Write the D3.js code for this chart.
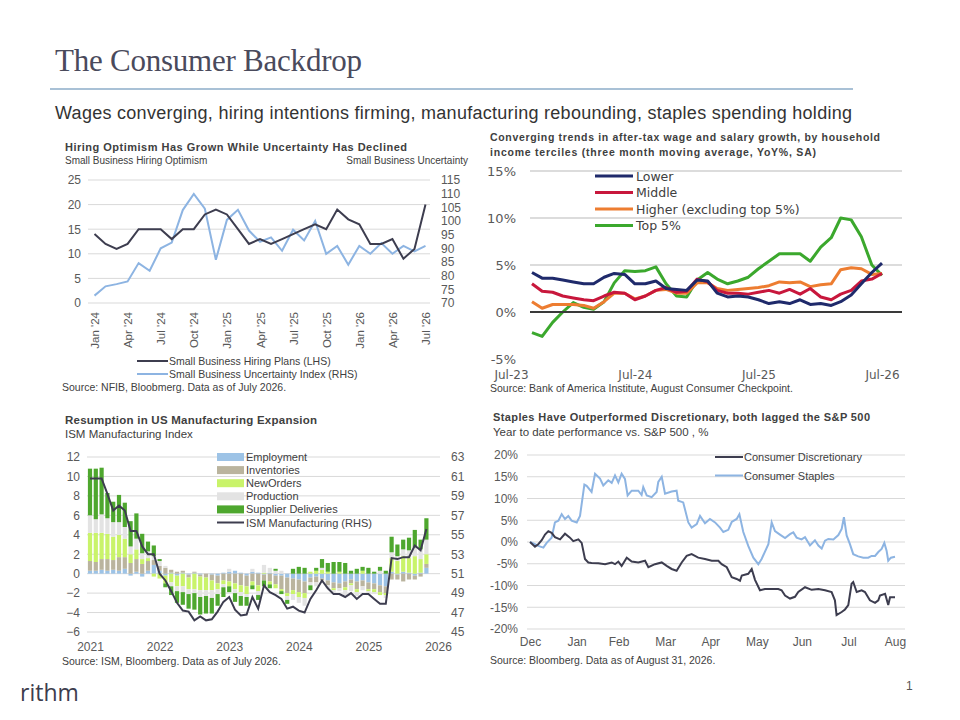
<!DOCTYPE html>
<html><head><meta charset="utf-8">
<script src="https://cdn.jsdelivr.net/npm/d3@7"></script>
<style>
body{margin:0;background:#fff}
svg{display:block}
</style></head><body>
<svg id="c" width="960" height="720"></svg>
<script>
// ================= DATA =================
// Panel 1: NFIB hiring plans vs uncertainty (monthly, Jan '24 .. Jul '26)
const hiringTickLabels = ["Jan '24","Apr '24","Jul '24","Oct '24","Jan '25","Apr '25","Jul '25","Oct '25","Jan '26","Apr '26","Jul '26"];
const hiringPlans = [14,12,11,12,15,15,15,13,15,15,18,19,18,15,12,13,12,13,14,15,16,15,19,17,16,12,12,13,9,11,20];
const uncertaintyIndex = [72.7,76.1,76.9,77.9,84.6,81.8,90.0,92.1,104.0,109.9,104.5,85.8,100.4,104.1,96.5,92.4,94.0,89.1,96.8,92.9,100.0,88.0,90.9,84.0,90.9,88.0,91.9,88.0,90.9,88.9,90.9];
const hiringLeftTicks = [0,5,10,15,20,25];
const hiringRightTicks = [70,75,80,85,90,95,100,105,110,115];

// Panel 2: after-tax wage growth by income tercile (monthly, Sep-23 .. Jul-26)
const wageFirstMonth = new Date(2023, 8, 1);
const wageTickDates = [new Date(2023,6,1), new Date(2024,6,1), new Date(2025,6,1), new Date(2026,6,1)];
const wageTicks = [-5,0,5,10,15];
const wageLower  = [4.2,3.6,3.6,3.4,3.2,3.0,3.0,3.7,4.1,4.0,3.0,3.0,3.3,2.5,2.4,2.3,3.4,3.3,2.0,1.6,1.7,1.6,1.3,0.9,1.1,0.9,1.3,0.8,0.9,0.7,1.1,1.8,3.0,4.2,5.2];
const wageMiddle = [3.0,2.2,2.1,1.7,1.5,1.3,1.2,1.7,2.1,2.0,1.3,1.7,2.3,2.6,2.1,2.2,3.5,3.2,2.3,2.0,2.0,1.9,2.1,2.3,2.0,2.4,1.9,2.5,1.6,1.3,1.9,2.3,3.3,3.5,4.1];
const wageHigher = [1.1,0.4,0.8,0.8,0.8,0.7,0.4,1.1,2.0,2.0,1.4,1.7,2.3,2.4,2.0,2.0,3.1,3.1,2.5,2.3,2.4,2.5,2.6,2.8,3.2,3.1,3.2,2.7,2.9,3.0,4.5,4.7,4.6,4.0,4.1];
const wageTop5   = [-2.2,-2.6,-1.1,0.0,1.0,0.5,0.3,1.1,3.1,4.4,4.3,4.4,4.8,3.0,1.7,1.6,3.4,4.2,3.5,3.0,3.3,3.7,4.6,5.4,6.2,6.2,6.2,5.4,6.9,7.9,10.0,9.8,8.0,5.0,3.9];
const wageSeriesNames = ["Lower","Middle","Higher (excluding top 5%)","Top 5%"];

// Panel 3: ISM manufacturing contributions (monthly from Jan 2021)
const ismYearLabels = ["2021","2022","2023","2024","2025","2026"];
const ismLeftTicks = [-6,-4,-2,0,2,4,6,8,10,12];
const ismRightTicks = [45,47,49,51,53,55,57,59,61,63];
const ismEmployment = [0.3,0.3,0.4,0.3,0.4,0.3,0.5,-0.2,0.2,-0.3,0.3,0.9, 0.3,-0.2,0.1,-0.2,0.1,-0.1,0.1,-0.1,0.0,-0.1,-0.2,0.1, 0.2,0.3,0.1,-0.2,0.2,0.1,-0.1,0.1,-0.2,-0.2,-0.4,-0.5, -0.6,-0.8,-0.4,-0.3,-0.5,-0.7,-0.9,-1.0,-0.8,-0.6,-0.8,-0.7, -0.9,-1.0,-1.2,-1.3,0.2,-0.1,0.2,0.1,-0.2,0.1,0.6];
const ismInventories = [1.0,0.9,1.1,1.2,1.0,1.4,1.2,1.1,1.3,1.0,1.0,0.5, 0.5,0.6,0.3,0.2,0.2,-0.3,0.1,-0.2,-0.4,-0.6,-0.8,-0.7, -0.8,-1.0,-1.2,-1.1,-0.8,-1.2,-0.6,-0.8,-0.9,-1.4,-1.6,-1.2, -1.3,-1.2,-0.5,-0.6,-0.2,-0.5,-0.6,-0.5,-0.6,-0.4,-0.8,-0.6, -0.7,-0.6,-0.7,-0.7,-0.6,-0.5,-0.8,-0.6,-0.4,-0.3,0.4];
const ismNewOrders = [2.9,3.0,2.7,2.6,2.4,2.3,1.9,0.9,1.0,0.5,0.3,-0.3, -0.5,-0.8,-0.9,-1.1,-1.3,-1.2,-1.6,-1.4,-1.3,-1.0,-0.6,-0.4, -0.5,-0.6,-0.7,-0.8,-0.4,-0.6,0.1,-0.3,-0.4,-0.2,-0.3,-0.4, -0.5,-0.5,0.2,0.3,0.4,0.2,-0.2,0.2,-0.3,-0.2,-0.3,0.3, -0.2,-0.3,-0.3,-0.2,1.4,1.3,1.6,1.5,1.8,1.4,1.0];
const ismProduction = [1.8,1.4,1.9,1.6,1.5,1.3,1.2,0.8,1.1,0.6,0.7,0.4, 0.5,0.2,-0.4,-0.5,-0.6,-0.5,-0.4,-0.7,-0.6,-0.8,-0.5,-0.3, 0.3,-0.4,-0.4,-0.3,0.3,-0.4,0.8,0.5,0.3,0.3,-0.4,-0.6, -0.6,-0.8,-0.3,-0.4,0.2,-0.3,-0.4,-0.3,-0.5,-0.6,-0.4,-0.4, -0.3,-0.2,0.3,-0.3,0.6,0.5,0.7,0.8,0.9,1.0,1.5];
const ismSupplier = [4.8,5.2,4.8,2.6,2.1,2.8,2.5,2.6,2.6,2.0,1.0,1.1, 0.2,-0.4,-0.9,-1.2,-1.3,-1.5,-1.7,-1.8,-1.8,-1.6,-1.2,-1.0, -0.6,-0.9,-1.0,-0.9,-0.4,-0.5,-0.6,-0.4,0.2,-0.3,-0.4,0.5, 0.7,0.6,-0.5,0.3,0.9,0.9,1.2,1.0,1.1,0.3,0.5,0.4, 0.6,0.2,0.4,0.3,1.6,1.2,1.0,1.3,1.8,1.0,2.2];
const ismIndex = [60.8,60.8,60.8,59.2,57.5,58.0,57.5,55.4,55.4,53.8,53.0,53.0,51.0,50.3,49.2,48.0,47.2,47.1,46.2,46.6,46.2,46.3,47.1,48.1,48.6,47.3,46.7,46.8,48.6,47.4,49.8,49.1,48.8,48.4,47.4,47.6,47.2,47.0,48.4,49.3,50.3,49.5,48.9,48.9,48.6,49.0,48.4,48.9,48.9,48.4,47.9,47.9,52.6,52.5,52.7,52.7,53.9,53.4,55.6];
const ismKeys = ["Employment","Inventories","NewOrders","Production","Supplier Deliveries"];

// Panel 4: YTD performance vs S&P 500 ([days since Dec 31, %])
const perfMonthLabels = ["Dec","Jan","Feb","Mar","Apr","May","Jun","Jul","Aug"];
const perfMonthEndDays = [0,31,59,90,120,151,181,212,243];
const perfTicks = [-20,-15,-10,-5,0,5,10,15,20];
const discretionary = [[0,0],[3.3,-1.1],[5.5,-0.5],[7.8,0.4],[10,1.7],[12.2,2.5],[14.4,2.1],[16.6,1.1],[20,0.6],[23.3,1.9],[26.6,1.0],[28.8,0.2],[32.2,0.6],[34.4,-0.2],[36.6,-3.9],[38.8,-4.7],[41,-4.8],[45.5,-4.9],[50,-5.1],[54.4,-4.7],[56.6,-5.1],[58.8,-4.5],[61,-5.5],[64.4,-3.6],[67.7,-4.5],[72.1,-4.7],[76.6,-4.3],[78.8,-5.8],[83.2,-5.1],[87.7,-4.7],[91,-5.5],[94.3,-6.2],[97.6,-6.6],[101,-4.7],[104.3,-3.2],[107.6,-2.8],[112,-3.6],[116.5,-3.9],[121,-4.3],[125.4,-4.3],[127.6,-5.1],[131,-5.8],[134.3,-8.1],[137.6,-8.5],[139.8,-8.9],[141,-7.7],[145.3,-7.3],[147.6,-6.2],[149.8,-8.7],[153.1,-11.1],[156.4,-10.8],[160.9,-10.8],[165.3,-10.8],[167.5,-11.1],[169.8,-12.3],[173.1,-13.0],[176.4,-12.6],[178.6,-11.5],[183.1,-10.4],[187.5,-11.0],[192,-10.8],[196.4,-11.1],[200.8,-11.5],[203,-13.4],[204.1,-16.8],[207.5,-16.1],[209.7,-15.5],[211.9,-14.5],[214.1,-9.6],[215.2,-9.2],[217.5,-11.5],[220.8,-11.1],[223,-11.5],[226.3,-13.4],[229.7,-14.0],[231.9,-13.4],[233,-12.3],[236.4,-11.9],[238.5,-14.5],[239.7,-12.7],[243,-12.7]];
const staples = [[0,0],[3.3,-0.5],[5.5,-0.9],[8.9,-1.3],[11.1,-0.2],[14.4,1.0],[16.6,4.5],[18.9,4.9],[21.1,6.4],[23.3,5.3],[25.5,6.0],[27.7,4.9],[31.1,4.5],[33.3,6.0],[36.2,13.2],[37.7,12.9],[41,11.5],[43.3,15.7],[46.6,14.6],[48.8,13.0],[52.1,14.2],[54.4,13.6],[56.6,15.3],[58.8,13.7],[61,15.7],[63.2,14.5],[65,10.7],[67.7,11.8],[72.1,11.8],[74.3,10.8],[75.4,12.6],[77.7,10.7],[81,10.3],[84.3,11.5],[85.4,13.8],[87.7,15.0],[89.9,11.1],[94.3,11.6],[97.6,11.8],[98.7,9.5],[102,9.1],[105.4,4.5],[107.6,3.3],[111,4.1],[113.2,6.0],[116.5,4.3],[119.8,5.3],[123.2,4.5],[126.5,3.3],[128.7,2.3],[132,2.8],[134.3,4.6],[137.6,5.3],[139.4,6.4],[142,2.3],[145.3,-0.9],[148.7,-3.6],[152,-5.1],[154.2,-3.9],[158.7,-0.5],[160.9,4.5],[163.1,2.5],[166.4,1.7],[169.8,0.9],[173.1,1.8],[175.3,2.2],[177.5,1.0],[180.8,0.6],[183.1,1.1],[186.4,-0.8],[189.7,0.4],[192,-0.8],[194.2,-1.5],[196.4,0.3],[198.6,0.7],[202,0.6],[205.3,1.6],[207.5,3.0],[209,5.7],[210.8,1.5],[213,-0.5],[215.2,-2.8],[218.5,-3.3],[221.9,-3.6],[225.2,-3.6],[227.4,-3.2],[229.7,-3.2],[231.9,-2.3],[234.1,-1.6],[235.9,-0.2],[237.4,-2.0],[238.5,-4.3],[240.3,-3.6],[243,-3.4]];

// ================= DRAWING =================
const svg = d3.select("#c");
const SANS = "Liberation Sans, Arial, sans-serif";
const VERD = "DejaVu Sans, Verdana, sans-serif";
const GRID = "#d9d9d9", TICK = "#595959", DARK = "#3d3d4f", LIGHT = "#8db4e2";

function txt(x, y, s, o = {}) {
  const t = svg.append("text").attr("x", x).attr("y", y).text(s)
    .attr("font-family", o.family || SANS).attr("font-size", o.size || 11)
    .attr("fill", o.fill || "#404040");
  if (o.weight) t.attr("font-weight", o.weight);
  if (o.anchor) t.attr("text-anchor", o.anchor);
  if (o.len) t.attr("textLength", o.len);
  return t;
}
function styleAxis(g, size, family, fill) {
  g.select(".domain").remove();
  g.selectAll("text").attr("font-size", size).attr("font-family", family).attr("fill", fill || TICK);
}

// ---------- Page header ----------
txt(55, 71, "The Consumer Backdrop", {family: "Liberation Serif, serif", size: 31, fill: "#4a4a5c", len: 307});
svg.append("line").attr("x1", 50).attr("x2", 853).attr("y1", 89).attr("y2", 89).attr("stroke", "#a9c1d6").attr("stroke-width", 2);
txt(55, 119, "Wages converging, hiring intentions firming, manufacturing rebounding, staples spending holding", {size: 18, fill: "#333", len: 797});
txt(20, 701, "rithm", {family: "Open Sans, sans-serif", size: 23, fill: "#3d3d4d"});
txt(906, 690, "1", {size: 12, fill: "#555"});

// ---------- Panel 1 ----------
{
  const x = d3.scaleLinear().domain([0, hiringPlans.length - 1]).range([94.5, 425.5]);
  const yL = d3.scaleLinear().domain([0, 25]).range([303, 180]);
  const yR = d3.scaleLinear().domain([70, 115]).range([303, 180]);
  txt(65, 151, "Hiring Optimism Has Grown While Uncertainty Has Declined", {weight: "bold", size: 11, fill: "#404040", len: 342});
  txt(65, 164, "Small Business Hiring Optimism", {size: 10, fill: "#404040"});
  txt(468, 164, "Small Business Uncertainty", {size: 10, fill: "#404040", anchor: "end"});
  svg.append("g").selectAll("line").data(hiringLeftTicks).join("line")
    .attr("x1", 88).attr("x2", 430).attr("y1", d => yL(d)).attr("y2", d => yL(d))
    .attr("stroke", GRID).attr("stroke-width", 1);
  const gl = svg.append("g").attr("transform", "translate(81,0)")
    .call(d3.axisLeft(yL).tickValues(hiringLeftTicks).tickSize(0).tickPadding(0));
  styleAxis(gl, 12, SANS);
  const gr = svg.append("g").attr("transform", "translate(441,0)")
    .call(d3.axisRight(yR).tickValues(hiringRightTicks).tickSize(0).tickPadding(0));
  styleAxis(gr, 12, SANS);
  const gx = svg.append("g").attr("transform", "translate(0,312)")
    .call(d3.axisBottom(x).tickValues(d3.range(0, hiringPlans.length, 3)).tickFormat((d, k) => hiringTickLabels[k]).tickSize(0).tickPadding(0));
  styleAxis(gx, 11.5, SANS);
  gx.selectAll("text").attr("transform", "rotate(-90)").attr("text-anchor", "end").attr("x", 0).attr("y", 0).attr("dy", "0.35em");
  svg.append("path").datum(uncertaintyIndex).attr("fill", "none").attr("stroke", LIGHT).attr("stroke-width", 2)
    .attr("d", d3.line().x((d, i) => x(i)).y(d => yR(d)));
  svg.append("path").datum(hiringPlans).attr("fill", "none").attr("stroke", DARK).attr("stroke-width", 2)
    .attr("d", d3.line().x((d, i) => x(i)).y(d => yL(d)));
  const leg = [["Small Business Hiring Plans (LHS)", DARK], ["Small Business Uncertainty Index (RHS)", LIGHT]];
  leg.forEach((l, k) => {
    const yy = 361 + k * 13;
    svg.append("line").attr("x1", 137).attr("x2", 168).attr("y1", yy).attr("y2", yy).attr("stroke", l[1]).attr("stroke-width", 2);
    txt(169, yy + 3.8, l[0], {size: 10.5, fill: "#404040"});
  });
  txt(62, 391, "Source: NFIB, Bloobmerg. Data as of July 2026.", {size: 10.5, fill: "#404040"});
}

// ---------- Panel 2 ----------
{
  const x = d3.scaleTime().domain([wageTickDates[0], wageTickDates[3]]).range([511, 882]);
  const y = d3.scaleLinear().domain([-5, 15]).range([359, 171]);
  txt(490, 141, "Converging trends in after-tax wage and salary growth, by household", {weight: "bold", size: 10.5, fill: "#404040", len: 390});
  txt(490, 156, "income terciles (three month moving average, YoY%, SA)", {weight: "bold", size: 10.5, fill: "#404040", len: 326});
  svg.append("g").selectAll("line").data(wageTicks.filter(d => d > 0)).join("line")
    .attr("x1", 530).attr("x2", 902).attr("y1", d => y(d)).attr("y2", d => y(d))
    .attr("stroke", "#d0d0d0").attr("stroke-width", 1.5);
  const gy = svg.append("g").attr("transform", "translate(516,0)")
    .call(d3.axisLeft(y).tickValues(wageTicks).tickFormat(d => d + "%").tickSize(0).tickPadding(0));
  styleAxis(gy, 13, VERD);
  const gx = svg.append("g").attr("transform", "translate(0,370)")
    .call(d3.axisBottom(x).tickValues(wageTickDates).tickFormat(d3.timeFormat("%b-%y")).tickSize(0).tickPadding(0));
  styleAxis(gx, 12, VERD);
  gx.selectAll("text").attr("dy", "0.71em");
  const dates = wageLower.map((d, k) => d3.timeMonth.offset(wageFirstMonth, k));
  const series = [wageLower, wageMiddle, wageHigher, wageTop5];
  const colors = ["#1f2a6b", "#c8173c", "#ed7d31", "#3ba82d"];
  const line = d3.line().x((d, k) => x(dates[k])).y(d => y(d));
  [3, 2, 1, 0].forEach(s => {
    svg.append("path").datum(series[s]).attr("fill", "none").attr("stroke", colors[s]).attr("stroke-width", 3)
      .attr("stroke-linejoin", "round").attr("d", line);
  });
  svg.append("line").attr("x1", 530).attr("x2", 902).attr("y1", y(0)).attr("y2", y(0)).attr("stroke", "#3a3a3a").attr("stroke-width", 1.8);
  wageSeriesNames.forEach((n, k) => {
    const yy = 176 + k * 16.5;
    svg.append("line").attr("x1", 595).attr("x2", 633).attr("y1", yy).attr("y2", yy).attr("stroke", colors[k]).attr("stroke-width", 3);
    txt(636, yy + 4.5, n, {family: VERD, size: 12.5, fill: "#404040"});
  });
  txt(490, 392, "Source: Bank of America Institute, August Consumer Checkpoint.", {size: 10.5, fill: "#404040"});
}

// ---------- Panel 3 ----------
{
  const x = d3.scaleLinear().domain([0, 60]).range([90, 438]);
  const y = d3.scaleLinear().domain([-6, 12]).range([632, 457]);
  const yR = d3.scaleLinear().domain([45, 63]).range([632, 457]);
  txt(65, 424, "Resumption in US Manufacturing Expansion", {weight: "bold", size: 11.5, fill: "#404040", len: 252});
  txt(65, 438, "ISM Manufacturing Index", {size: 11.5, fill: "#404040"});
  svg.append("g").selectAll("line").data(ismLeftTicks).join("line")
    .attr("x1", 87).attr("x2", 440).attr("y1", d => y(d)).attr("y2", d => y(d))
    .attr("stroke", GRID).attr("stroke-width", 1);
  const gl = svg.append("g").attr("transform", "translate(80,0)")
    .call(d3.axisLeft(y).tickValues(ismLeftTicks).tickSize(0).tickPadding(0));
  styleAxis(gl, 12, SANS);
  const gr = svg.append("g").attr("transform", "translate(451,0)")
    .call(d3.axisRight(yR).tickValues(ismRightTicks).tickSize(0).tickPadding(0));
  styleAxis(gr, 12, SANS);
  const gx = svg.append("g").attr("transform", "translate(0,642)")
    .call(d3.axisBottom(x).tickValues([0, 12, 24, 36, 48, 60]).tickFormat((d, k) => ismYearLabels[k]).tickSize(0).tickPadding(0));
  styleAxis(gx, 12, SANS);
  gx.selectAll("text").attr("dy", "0.71em");
  const rows = ismIndex.map((v, i) => ({
    i, "Employment": ismEmployment[i], "Inventories": ismInventories[i], "NewOrders": ismNewOrders[i],
    "Production": ismProduction[i], "Supplier Deliveries": ismSupplier[i]
  }));
  const stacked = d3.stack().keys(ismKeys).offset(d3.stackOffsetDiverging)(rows);
  const colors = ["#9dc3e6", "#bab49e", "#c9f36a", "#e3e3e3", "#4ea72e"];
  stacked.forEach((s, k) => {
    svg.append("g").attr("fill", colors[k]).selectAll("rect").data(s).join("rect")
      .attr("x", d => x(d.data.i) - 2.1).attr("width", 4.2)
      .attr("y", d => y(Math.max(d[0], d[1]))).attr("height", d => Math.abs(y(d[0]) - y(d[1])));
  });
  svg.append("path").datum(ismIndex).attr("fill", "none").attr("stroke", DARK).attr("stroke-width", 2)
    .attr("d", d3.line().x((d, i) => x(i)).y(d => yR(d)));
  ismKeys.forEach((n, k) => {
    const yy = 457 + k * 13.1;
    svg.append("rect").attr("x", 217).attr("y", yy - 4).attr("width", 27).attr("height", 8).attr("fill", colors[k]);
    txt(246, yy + 4, n, {size: 11, fill: "#404040"});
  });
  const yy = 457 + 5 * 13.1;
  svg.append("line").attr("x1", 217).attr("x2", 244).attr("y1", yy).attr("y2", yy).attr("stroke", DARK).attr("stroke-width", 2);
  txt(246, yy + 4, "ISM Manufacturing (RHS)", {size: 11, fill: "#404040"});
  txt(62, 665, "Source: ISM, Bloomberg. Data as of July 2026.", {size: 10.5, fill: "#404040"});
}

// ---------- Panel 4 ----------
{
  const x = d3.scaleLinear().domain([0, 243]).range([530, 895]);
  const y = d3.scaleLinear().domain([-20, 20]).range([629, 455]);
  txt(493, 421, "Staples Have Outperformed Discretionary, both lagged the S&P 500", {weight: "bold", size: 11, fill: "#404040", len: 377});
  txt(493, 436, "Year to date performance vs. S&P 500 , %", {size: 11.5, fill: "#404040"});
  svg.append("g").selectAll("line").data(perfTicks).join("line")
    .attr("x1", 527).attr("x2", 905).attr("y1", d => y(d)).attr("y2", d => y(d))
    .attr("stroke", GRID).attr("stroke-width", 1);
  const gy = svg.append("g").attr("transform", "translate(518,0)")
    .call(d3.axisLeft(y).tickValues(perfTicks).tickFormat(d => d + "%").tickSize(0).tickPadding(0));
  styleAxis(gy, 12, SANS);
  const gx = svg.append("g").attr("transform", "translate(0,637)")
    .call(d3.axisBottom(x).tickValues(perfMonthEndDays).tickFormat((d, k) => perfMonthLabels[k]).tickSize(0).tickPadding(0));
  styleAxis(gx, 12, SANS);
  gx.selectAll("text").attr("dy", "0.71em");
  const line = d3.line().x(d => x(d[0])).y(d => y(d[1]));
  svg.append("path").datum(staples).attr("fill", "none").attr("stroke", LIGHT).attr("stroke-width", 2).attr("d", line);
  svg.append("path").datum(discretionary).attr("fill", "none").attr("stroke", DARK).attr("stroke-width", 2).attr("d", line);
  [["Consumer Discretionary", DARK], ["Consumer Staples", LIGHT]].forEach((l, k) => {
    const yy = 457 + k * 18.5;
    svg.append("line").attr("x1", 715).attr("x2", 743).attr("y1", yy).attr("y2", yy).attr("stroke", l[1]).attr("stroke-width", 2);
    txt(744, yy + 4, l[0], {size: 11, fill: "#404040"});
  });
  txt(490, 664, "Source: Bloomberg. Data as of August 31, 2026.", {size: 10.5, fill: "#404040"});
}
</script>
</body></html>
